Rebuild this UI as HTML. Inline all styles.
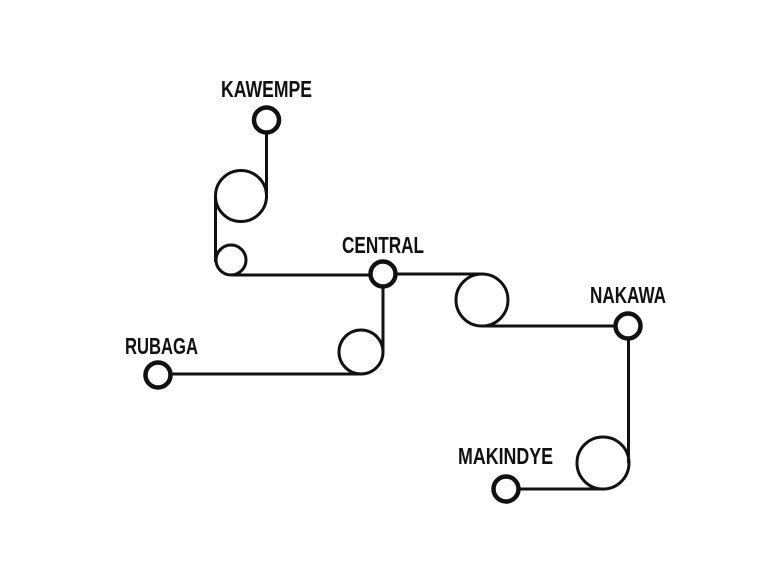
<!DOCTYPE html>
<html><head><style>html,body{margin:0;padding:0;background:#fff}</style></head>
<body>
<svg width="770" height="560" viewBox="0 0 770 560" xmlns="http://www.w3.org/2000/svg">
<g fill="none" stroke="#111" stroke-width="3">
<path d="M266.5 133 L266.5 198"/>
<circle cx="241" cy="196" r="25.5"/>
<path d="M215.5 196 L215.5 262"/>
<circle cx="231" cy="260" r="15"/>
<path d="M231 275 L370 275"/>
<path d="M396 274 L482 274"/>
<circle cx="482" cy="300" r="26"/>
<path d="M482 326 L614 326"/>
<path d="M628.5 340 L628.5 463"/>
<circle cx="603" cy="463" r="26"/>
<path d="M603 489 L520 489"/>
<path d="M383 288 L383 352"/>
<circle cx="361" cy="352" r="22"/>
<path d="M361 374 L172 374"/>
</g>
<g fill="#fff" stroke="#111" stroke-width="4.5">
<circle cx="266.5" cy="120" r="12.5"/>
<circle cx="383" cy="274" r="12.5"/>
<circle cx="628" cy="326" r="12.5"/>
<circle cx="506" cy="489" r="12.5"/>
<circle cx="158" cy="375" r="12.5"/>
</g>
<g font-family="Liberation Sans, sans-serif" font-weight="bold" font-size="23" fill="#111">
<text x="221" y="97" textLength="91" lengthAdjust="spacingAndGlyphs">KAWEMPE</text>
<text x="342" y="253" textLength="82" lengthAdjust="spacingAndGlyphs">CENTRAL</text>
<text x="590" y="303" textLength="76" lengthAdjust="spacingAndGlyphs">NAKAWA</text>
<text x="125" y="354" textLength="73" lengthAdjust="spacingAndGlyphs">RUBAGA</text>
<text x="458" y="464" textLength="95" lengthAdjust="spacingAndGlyphs">MAKINDYE</text>
</g>
</svg>
</body></html>
